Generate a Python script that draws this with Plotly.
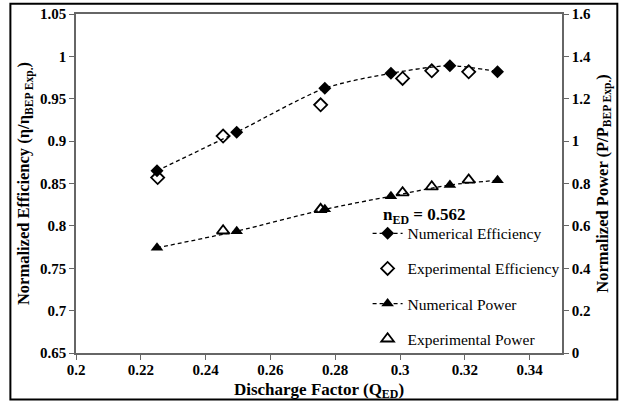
import plotly.graph_objects as go

# Data
num_eff_x = [0.225, 0.2496, 0.2768, 0.2972, 0.3154, 0.3301]
num_eff_y = [0.865, 0.9105, 0.9623, 0.980, 0.9889, 0.982]
exp_eff_x = [0.2252, 0.2454, 0.2755, 0.3008, 0.3098, 0.3212]
exp_eff_y = [0.857, 0.906, 0.9428, 0.974, 0.983, 0.9818]

num_pow_x = [0.225, 0.2496, 0.2768, 0.2972, 0.3154, 0.3301]
num_pow_y = [0.4965, 0.575, 0.678, 0.740, 0.793, 0.815]
exp_pow_x = [0.2454, 0.2755, 0.3008, 0.3098, 0.3212]
exp_pow_y = [0.577, 0.678, 0.757, 0.785, 0.817]

x_ticks = [0.2, 0.22, 0.24, 0.26, 0.28, 0.3, 0.32, 0.34]
x_tick_text = ["0.2", "0.22", "0.24", "0.26", "0.28", "0.3", "0.32", "0.34"]
y_ticks = [0.65, 0.7, 0.75, 0.8, 0.85, 0.9, 0.95, 1.0, 1.05]
y_tick_text = ["0.65", "0.7", "0.75", "0.8", "0.85", "0.9", "0.95", "1", "1.05"]
y2_ticks = [0, 0.2, 0.4, 0.6, 0.8, 1.0, 1.2, 1.4, 1.6]
y2_tick_text = ["0", "0.2", "0.4", "0.6", "0.8", "1", "1.2", "1.4", "1.6"]

FONT = "Liberation Serif"
line_style = dict(color="black", width=1.3, dash="4px,3px", shape="spline", smoothing=0.8)


def bold(labels):
    return ["<b>%s</b>" % t for t in labels]


fig = go.Figure()
fig.add_trace(go.Scatter(x=num_eff_x, y=num_eff_y, mode="lines+markers",
                         name="Numerical Efficiency", legendgroup="a",
                         line=line_style,
                         marker=dict(symbol="diamond", size=10, color="black")))
fig.add_trace(go.Scatter(x=exp_eff_x, y=exp_eff_y, mode="markers",
                         name="Experimental Efficiency", legendgroup="b",
                         marker=dict(symbol="diamond-open", size=10, color="black",
                                     line=dict(width=1.8, color="black"))))
fig.add_trace(go.Scatter(x=num_pow_x, y=num_pow_y, mode="lines+markers",
                         name="Numerical Power", legendgroup="c", yaxis="y2",
                         line=line_style,
                         marker=dict(symbol="triangle-up", size=11, color="black")))
fig.add_trace(go.Scatter(x=exp_pow_x, y=exp_pow_y, mode="markers",
                         name="Experimental Power", legendgroup="d", yaxis="y2",
                         marker=dict(symbol="triangle-up-open", size=11, color="black",
                                     line=dict(width=1.8, color="black"))))

axis_common = dict(showgrid=False, zeroline=False, showline=True, linecolor="#666666",
                   linewidth=1.5, ticks="outside", ticklen=5, tickcolor="#666666",
                   tickwidth=1.2, automargin=False,
                   tickfont=dict(family=FONT, size=15, color="black"))

fig.update_layout(
    width=621, height=402,
    margin=dict(l=76, r=59, t=14, b=49, autoexpand=False),
    paper_bgcolor="white", plot_bgcolor="white",
    font=dict(family=FONT, color="black"),
    xaxis=dict(range=[0.2, 0.35], tickvals=x_ticks, ticktext=bold(x_tick_text), mirror=True,
               ticklabelstandoff=-3,
               title=dict(text="<b>Discharge Factor (Q<sub>ED</sub>)</b>",
                          font=dict(family=FONT, size=17), standoff=6),
               **axis_common),
    yaxis=dict(range=[0.65, 1.05], tickvals=y_ticks, ticktext=bold(y_tick_text),
               title=dict(text="<b>Normalized Efficiency (η/η<sub>BEP Exp.</sub>)</b>",
                          font=dict(family=FONT, size=16.5), standoff=6),
               **axis_common),
    yaxis2=dict(range=[0, 1.6], tickvals=y2_ticks, ticktext=bold(y2_tick_text),
                overlaying="y", side="right",
                title=dict(text="<b>Normalized Power (P/P<sub>BEP Exp.</sub>)</b>",
                           font=dict(family=FONT, size=16.5), standoff=6),
                **axis_common),
    legend=dict(x=0.6, y=0.402, xanchor="left", yanchor="top",
                bgcolor="rgba(0,0,0,0)", traceorder="grouped", tracegroupgap=12,
                font=dict(family=FONT, size=15.5, color="black")),
    showlegend=True,
    annotations=[dict(text="<b>n<sub>ED</sub> = 0.562</b>", xref="paper", yref="paper",
                      x=0.805, y=0.405, showarrow=False,
                      font=dict(family=FONT, size=17, color="black"))],
    shapes=[dict(type="rect", xref="paper", yref="paper",
                 x0=-0.135, x1=1.1138, y0=-0.1368, y1=1.0304,
                 line=dict(color="black", width=2))],
)

fig.write_html("out.html")
